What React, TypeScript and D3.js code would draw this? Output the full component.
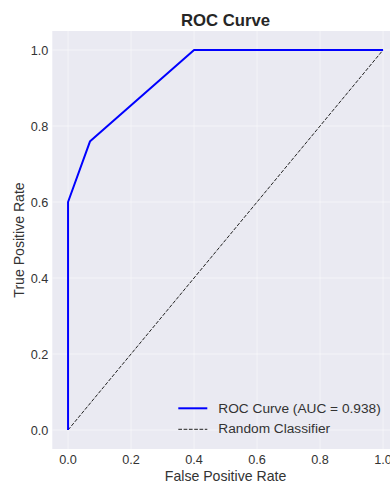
import React from "react";
import * as d3 from "d3";

const fpr = [0, 0, 0.07, 0.4, 1];
const tpr = [0, 0.6, 0.76, 1, 1];
const diagX = [0, 1];
const diagY = [0, 1];
const ticks = [0, 0.2, 0.4, 0.6, 0.8, 1.0];
const legendLabels = ["ROC Curve (AUC = 0.938)", "Random Classifier"];

export default function App() {
  const W = 390, H = 483;
  const left = 52.3, right = 398.8, top = 31, bottom = 449;
  const x = d3.scaleLinear().domain([-0.05, 1.05]).range([left, right]);
  const y = d3.scaleLinear().domain([-0.05, 1.05]).range([bottom, top]);
  const line = d3.line<[number, number]>().x(d => x(d[0])).y(d => y(d[1]));
  const roc = line(fpr.map((f, i) => [f, tpr[i]] as [number, number]));
  const diag = line(diagX.map((f, i) => [f, diagY[i]] as [number, number]));
  const font = "'Liberation Sans', Arial, sans-serif";
  return (
    <svg width={W} height={H} style={{ position: "absolute", left: 0, top: 0 }} fontFamily={font}>
      <rect x={left} y={top} width={right - left} height={bottom - top} fill="#eaeaf2" />
      {ticks.map(t => (
        <g key={"g" + t}>
          <line x1={x(t)} x2={x(t)} y1={top} y2={bottom} stroke="#fff" strokeOpacity={0.6} strokeWidth={0.8} />
          <line x1={left} x2={right} y1={y(t)} y2={y(t)} stroke="#fff" strokeOpacity={0.6} strokeWidth={0.8} />
        </g>
      ))}
      <path d={diag!} fill="none" stroke="#222" strokeWidth={1} strokeDasharray="3.7,1.6" />
      <path d={roc!} fill="none" stroke="#0000ff" strokeWidth={2} strokeLinejoin="round" />
      {ticks.map(t => (
        <text key={"x" + t} x={x(t)} y={463.5} textAnchor="middle" fontSize={12.7} fill="#333">{t.toFixed(1)}</text>
      ))}
      {ticks.map(t => (
        <text key={"y" + t} x={48.3} y={y(t) + 4.6} textAnchor="end" fontSize={12.7} fill="#333">{t.toFixed(1)}</text>
      ))}
      <text x={(left + right) / 2} y={26} textAnchor="middle" fontSize={16.7} fontWeight="bold" fill="#262626">ROC Curve</text>
      <text x={(left + right) / 2} y={480.5} textAnchor="middle" fontSize={14.1} fill="#333">False Positive Rate</text>
      <text transform={`translate(24,${(top + bottom) / 2}) rotate(-90)`} textAnchor="middle" fontSize={14.1} fill="#333">True Positive Rate</text>
      <g>
        <line x1={178.3} x2={207.3} y1={408.3} y2={408.3} stroke="#0000ff" strokeWidth={2} />
        <text x={218.3} y={413.1} fontSize={13.7} fill="#333">{legendLabels[0]}</text>
        <line x1={178.3} x2={207.3} y1={429.3} y2={429.3} stroke="#222" strokeWidth={1} strokeDasharray="3.7,1.6" />
        <text x={218.3} y={433.1} fontSize={13.7} fill="#333">{legendLabels[1]}</text>
      </g>
    </svg>
  );
}
